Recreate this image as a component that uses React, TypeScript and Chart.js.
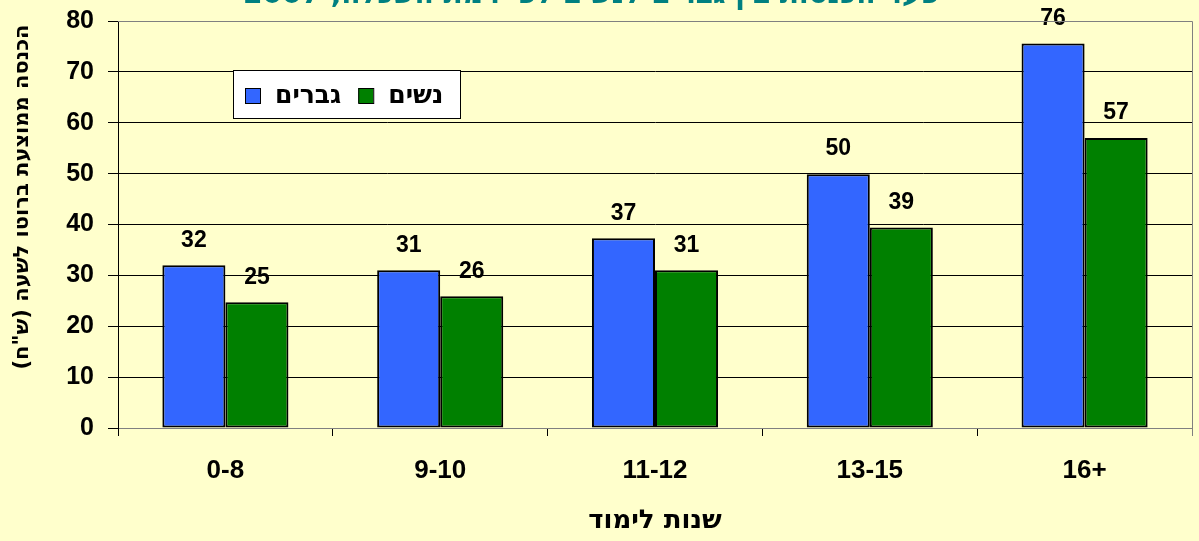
import React, { useEffect, useRef } from "react";
import { Chart, registerables } from "chart.js";

Chart.register(...registerables);

const chartTitle = 'פער הכנסות בין גברים לנשים לפי רמת השכלה, 2007';
const categories = ["0-8", "9-10", "11-12", "13-15", "16+"];
const seriesNames = ["גברים", "נשים"];
const menValues = [32.0, 31.0, 37.3, 49.9, 75.6];
const womenValues = [24.7, 25.9, 31.0, 39.4, 57.0];
const yMin = 0;
const yMax = 80;
const yStep = 10;
const yAxisTitle = 'הכנסה ממוצעת ברוטו לשעה (ש"ח)';
const xAxisTitle = "שנות לימוד";

const FONT = "'Liberation Sans', Arial, sans-serif";
const HFONT = "'DejaVu Sans', 'Liberation Sans', sans-serif";
const BG = "#FFFFCC";
const BLUE = "#3366FF";
const GREEN = "#008000";
const TEAL = "#008080";

const decorPlugin = {
  id: "decor",
  beforeDraw(chart: any) {
    const ctx = chart.ctx;
    ctx.save();
    ctx.fillStyle = BG;
    ctx.fillRect(0, 0, chart.width, chart.height);
    ctx.restore();
  },
  afterDraw(chart: any) {
    const ctx = chart.ctx;
    const area = chart.chartArea;
    ctx.save();
    ctx.strokeStyle = "#808080";
    ctx.lineWidth = 1;
    ctx.beginPath();
    ctx.moveTo(area.left, area.top + 0.5);
    ctx.lineTo(area.right + 0.5, area.top + 0.5);
    ctx.lineTo(area.right + 0.5, area.bottom + 8);
    ctx.stroke();

    ctx.fillStyle = TEAL;
    ctx.font = `bold 28px ${HFONT}`;
    ctx.direction = "rtl";
    ctx.textAlign = "center";
    ctx.textBaseline = "alphabetic";
    ctx.fillText(chartTitle, 591, 3);

    ctx.save();
    ctx.translate(23, 197);
    ctx.rotate(-Math.PI / 2);
    ctx.fillStyle = "#000";
    ctx.font = `bold 21px ${HFONT}`;
    ctx.direction = "rtl";
    ctx.textAlign = "center";
    ctx.textBaseline = "middle";
    ctx.fillText(yAxisTitle, 0, 0);
    ctx.restore();

    const lx = area.left + 115;
    const ly = area.top + 49;
    const lw = 227;
    const lh = 48;
    ctx.fillStyle = "#FFFFFF";
    ctx.fillRect(lx, ly, lw, lh);
    ctx.strokeStyle = "#000";
    ctx.lineWidth = 1;
    ctx.strokeRect(lx + 0.5, ly + 0.5, lw, lh);
    ctx.direction = "ltr";
    ctx.font = `bold 25px ${HFONT}`;
    ctx.textAlign = "left";
    ctx.textBaseline = "middle";
    let cx = lx + 12;
    const cy = ly + 26;
    chart.data.datasets.forEach((ds: any) => {
      ctx.fillStyle = ds.backgroundColor;
      ctx.fillRect(cx, cy - 8, 15, 15);
      ctx.strokeStyle = "#000";
      ctx.lineWidth = 1;
      ctx.strokeRect(cx + 0.5, cy - 7.5, 15, 15);
      cx += 30;
      ctx.fillStyle = "#000";
      ctx.fillText(ds.label, cx, cy);
      cx += ctx.measureText(ds.label).width + 17;
    });
    ctx.restore();
  },
  afterDatasetsDraw(chart: any) {
    const ctx = chart.ctx;
    ctx.save();
    ctx.fillStyle = "#000";
    ctx.font = `bold 23px ${FONT}`;
    ctx.textAlign = "center";
    ctx.textBaseline = "middle";
    chart.data.datasets.forEach((ds: any, i: number) => {
      const meta = chart.getDatasetMeta(i);
      meta.data.forEach((el: any, j: number) => {
        const v = ds.data[j] as number;
        ctx.fillText(String(Math.round(v)), el.x, el.y - 25);
      });
    });
    ctx.restore();
  },
};

export default function App() {
  const canvasRef = useRef<HTMLCanvasElement | null>(null);

  useEffect(() => {
    if (!canvasRef.current) return;
    const chart = new Chart(canvasRef.current, {
      type: "bar",
      data: {
        labels: categories,
        datasets: [
          {
            label: seriesNames[0],
            data: menValues,
            backgroundColor: BLUE,
            borderColor: "#000",
            borderWidth: 2,
            borderSkipped: false,
            categoryPercentage: 0.587,
            barPercentage: 1,
          },
          {
            label: seriesNames[1],
            data: womenValues,
            backgroundColor: GREEN,
            borderColor: "#000",
            borderWidth: 2,
            borderSkipped: false,
            categoryPercentage: 0.587,
            barPercentage: 1,
          },
        ],
      },
      options: {
        animation: false,
        responsive: false,
        maintainAspectRatio: false,
        layout: { padding: { top: 21, right: 7, left: 0, bottom: 0 } },
        plugins: {
          legend: { display: false },
          tooltip: { enabled: false },
          title: { display: false },
        },
        scales: {
          x: {
            afterFit: (s: any) => {
              s.height = 113;
              s.paddingLeft = 0;
              s.paddingRight = 0;
            },
            grid: {
              offset: true,
              drawOnChartArea: false,
              drawTicks: true,
              tickLength: 8,
              color: "#000",
            },
            border: { display: true, color: "#808080", width: 1 },
            ticks: {
              color: "#000",
              padding: 19,
              font: { family: FONT, size: 26, weight: "bold" },
            },
            title: {
              display: true,
              text: xAxisTitle,
              color: "#000",
              font: { family: HFONT, size: 26, weight: "bold" },
              padding: { top: 0, bottom: 4 },
            },
          },
          y: {
            min: yMin,
            max: yMax,
            afterFit: (s: any) => {
              s.width = 118;
              s.paddingTop = 0;
              s.paddingBottom = 0;
            },
            grid: {
              color: (c: any) =>
                c.tick && (c.tick.value === yMin || c.tick.value === yMax) ? "#808080" : "#000",
              tickColor: "#000",
              tickLength: 10,
              drawTicks: true,
            },
            border: { display: true, color: "#000", width: 1 },
            ticks: {
              stepSize: yStep,
              color: "#000",
              padding: 14,
              font: { family: FONT, size: 25, weight: "bold" },
            },
          },
        },
      },
      plugins: [decorPlugin],
    });
    return () => chart.destroy();
  }, []);

  return (
    <div
      style={{
        position: "absolute",
        left: 0,
        top: 0,
        width: 1199,
        height: 541,
        background: BG,
        overflow: "hidden",
      }}
    >
      <canvas ref={canvasRef} width={1199} height={541} style={{ width: 1199, height: 541, display: "block" }} />
    </div>
  );
}
